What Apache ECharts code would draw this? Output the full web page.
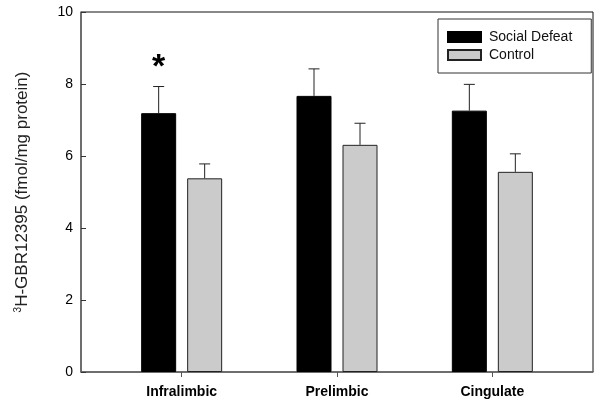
<!DOCTYPE html>
<html>
<head>
<meta charset="utf-8">
<script src="https://cdn.jsdelivr.net/npm/echarts@6/dist/echarts.min.js"></script>
<style>html,body{margin:0;padding:0;background:#fff}#c{width:600px;height:404px}</style>
</head>
<body>
<div id="c"></div>
<script>
const categories = ['Infralimbic', 'Prelimbic', 'Cingulate'];
const seriesNames = ['Social Defeat', 'Control'];
const socialDefeat = [7.19, 7.67, 7.26];
const socialDefeatErr = [0.74, 0.75, 0.73];
const control = [5.38, 6.31, 5.56];
const controlErr = [0.40, 0.60, 0.50];
const significance = ['*', '', ''];
const yTicks = [0, 2, 4, 6, 8, 10];

const FONT = "'Liberation Sans', Arial, sans-serif";
const BAR_W = 35;
const BAR_GAP = 11;
const OFF = (BAR_W + BAR_GAP) / 2;

function errSeries(vals, errs, offset, marks) {
  return {
    type: 'custom',
    xAxisIndex: 1, yAxisIndex: 1,
    z: 5,
    silent: true,
    data: vals.map((v, i) => [i, v, errs[i], marks ? marks[i] : '']),
    renderItem: function (params, api) {
      const i = api.value(0);
      const base = api.coord([i, api.value(1)]);
      const top = api.coord([i, api.value(1) + api.value(2)]);
      const x = base[0] + offset;
      const children = [
        { type: 'line', shape: { x1: x, y1: base[1], x2: x, y2: top[1] }, style: { stroke: '#222', lineWidth: 1 } },
        { type: 'line', shape: { x1: x - 5.5, y1: top[1], x2: x + 5.5, y2: top[1] }, style: { stroke: '#222', lineWidth: 1 } }
      ];
      const mark = marks ? marks[i] : '';
      if (mark) {
        children.push({ type: 'text', style: { x: x, y: top[1] - 19, text: mark, fill: '#000',
          font: 'bold 34px ' + FONT, align: 'center', verticalAlign: 'middle' } });
      }
      return { type: 'group', children: children };
    }
  };
}

const chart = echarts.init(document.getElementById('c'), null, { renderer: 'canvas' });
chart.setOption({
  animation: false,
  textStyle: { fontFamily: FONT },
  grid: [
    { left: 81, right: 7, top: 12, bottom: 32, show: true, borderColor: '#111', borderWidth: 1, backgroundColor: 'transparent' },
    { left: 104, width: 466, top: 12, bottom: 32 }
  ],
  legend: {
    orient: 'vertical', left: 438, top: 19,
    data: seriesNames,
    itemWidth: 33, itemHeight: 10, itemGap: 4,
    padding: [11, 19, 11, 9],
    borderColor: '#333', borderWidth: 1,
    icon: 'rect',
    selectedMode: false,
    textStyle: { fontFamily: FONT, fontSize: 14, color: '#111', padding: [0, 0, 0, 3] }
  },
  xAxis: [
    { type: 'value', gridIndex: 0, min: 0, max: 1,
      axisLine: { show: true, lineStyle: { color: '#666', width: 1.5 } },
      axisTick: { show: false }, axisLabel: { show: false }, splitLine: { show: false } },
    { type: 'category', gridIndex: 1, data: categories,
      axisLine: { show: false },
      axisTick: { show: true, alignWithLabel: true, length: 5, lineStyle: { color: '#555' } },
      axisLabel: { fontFamily: FONT, fontSize: 14, fontWeight: 'bold', color: '#000', margin: 13 } }
  ],
  yAxis: [
    { type: 'value', gridIndex: 0, min: yTicks[0], max: yTicks[yTicks.length - 1], interval: 2,
      axisLine: { show: true, lineStyle: { color: '#666', width: 1.5 } },
      axisTick: { show: true, inside: true, length: 5, lineStyle: { color: '#333' } },
      axisLabel: { fontFamily: FONT, fontSize: 14, color: '#000', margin: 8 },
      splitLine: { show: false },
      name: '{sup|3}{main|H-GBR12395 (fmol/mg protein)}',
      nameLocation: 'middle', nameGap: 49,
      nameTextStyle: {
        fontFamily: FONT, fontSize: 17, color: '#222',
        rich: {
          main: { fontFamily: FONT, fontSize: 17, color: '#222' },
          sup: { fontFamily: FONT, fontSize: 10, color: '#222', verticalAlign: 'bottom', padding: [0, 0, 9, 0] }
        }
      } },
    { type: 'value', gridIndex: 1, min: 0, max: 10, show: false }
  ],
  series: [
    { name: seriesNames[0], type: 'bar', xAxisIndex: 1, yAxisIndex: 1, data: socialDefeat,
      barWidth: BAR_W, barGap: (BAR_GAP / BAR_W * 100) + '%',
      itemStyle: { color: '#000', borderColor: '#000', borderWidth: 1 } },
    { name: seriesNames[1], type: 'bar', xAxisIndex: 1, yAxisIndex: 1, data: control,
      barWidth: BAR_W,
      itemStyle: { color: '#cbcbcb', borderColor: '#222', borderWidth: 1 } },
    errSeries(socialDefeat, socialDefeatErr, -OFF, significance),
    errSeries(control, controlErr, OFF, null)
  ]
});
</script>
</body>
</html>
